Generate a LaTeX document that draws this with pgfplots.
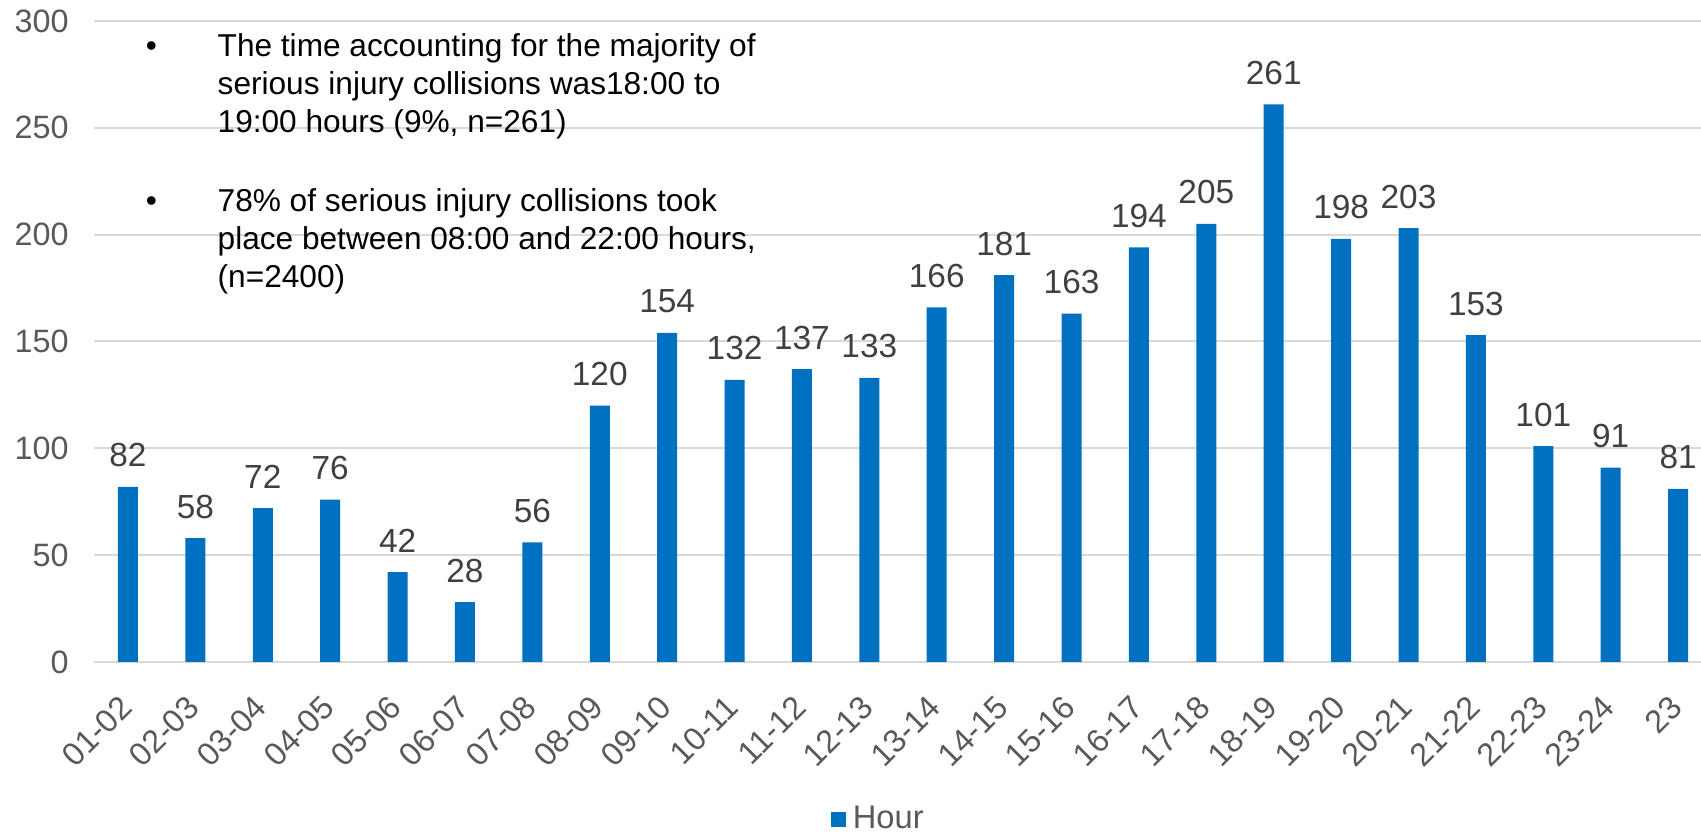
\documentclass[border=0pt]{standalone}
\usepackage{fontspec}
\setmainfont{Liberation Sans}
\usepackage{pgfplots}
\pgfplotsset{compat=1.18}
\definecolor{barblue}{HTML}{0070C0}
\definecolor{gridgray}{HTML}{D9D9D9}
\definecolor{tickgray}{HTML}{595959}
\definecolor{labgray}{HTML}{404040}
\begin{document}
\begin{tikzpicture}
\begin{axis}[
  at={(0,0)}, anchor=south west,
  scale only axis,
  width=16.068cm, height=6.41cm,
  xmin=-0.5, xmax=23.34,
  ymin=0, ymax=300,
  ytick={0,50,...,300},
  xtick={0,...,23},
  xticklabels={01-02,02-03,03-04,04-05,05-06,06-07,07-08,08-09,09-10,10-11,11-12,12-13,13-14,14-15,15-16,16-17,17-18,18-19,19-20,20-21,21-22,22-23,23-24,23},
  /pgf/number format/assume math mode=true,
  major tick length=0pt,
  axis line style={draw=none},
  ymajorgrids,
  grid style={gridgray, line width=0.57pt},
  yticklabel style={font=\fontsize{9.2}{11}\selectfont, text=tickgray, anchor=east, inner sep=0pt, xshift=-0.25cm},
  xticklabel style={font=\fontsize{9.2}{11}\selectfont, text=tickgray, xshift=-0.015cm, yshift=-0.395cm, rotate=45, anchor=east, inner sep=0pt},
  ybar, bar width=0.2cm,
  nodes near coords,
  every node near coord/.append style={font=\fontsize{9.5}{11}\selectfont, text=labgray, anchor=south, inner sep=0pt, yshift=0.19cm},
  legend style={at={(0.4895,-0.2465)}, anchor=center, draw=none, fill=none, font=\fontsize{9.3}{11}\selectfont, text=tickgray, inner sep=0pt},
  legend image code/.code={\fill[barblue] (0cm,-0.075cm) rectangle (0.15cm,0.075cm);},
  clip=false,
]
\addplot[fill=barblue, draw=none] coordinates {
(0,82) (1,58) (2,72) (3,76) (4,42) (5,28) (6,56) (7,120) (8,154) (9,132) (10,137) (11,133)
(12,166) (13,181) (14,163) (15,194) (16,205) (17,261) (18,198) (19,203) (20,153) (21,101) (22,91) (23,81)};
\addlegendentry{Hour}
\end{axis}
\begin{scope}[every node/.style={font=\fontsize{9}{10.8}\selectfont, inner sep=0pt, anchor=base west}]
\node at (0.51cm,6.05cm) {•};
\node at (1.227cm,6.05cm) {The time accounting for the majority of};
\node at (1.227cm,5.67cm) {serious injury collisions was18:00 to};
\node at (1.227cm,5.29cm) {19:00 hours (9\%, n=261)};
\node at (0.51cm,4.50cm) {•};
\node at (1.227cm,4.50cm) {78\% of serious injury collisions took};
\node at (1.227cm,4.12cm) {place between 08:00 and 22:00 hours,};
\node at (1.227cm,3.74cm) {(n=2400)};
\end{scope}
\pgfresetboundingbox
\path (-0.943cm,-1.73cm) rectangle (16.068cm,6.62cm);
\end{tikzpicture}
\end{document}
